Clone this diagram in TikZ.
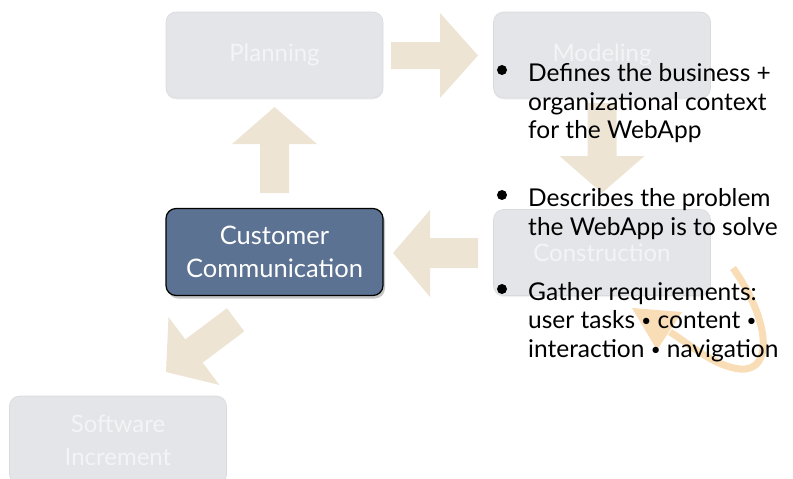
\documentclass[tikz,border=0pt]{standalone}
\usepackage{fontspec}
\setmainfont{Lato}
\usetikzlibrary{shadows}
\definecolor{boxfill}{HTML}{E4E5E9}
\definecolor{boxline}{HTML}{D9DADE}
\definecolor{boxtext}{HTML}{F4F4F6}
\definecolor{ccfill}{HTML}{5B7292}
\definecolor{arrowfill}{HTML}{EDE4D4}
\definecolor{curvecol}{HTML}{F9DDB6}
\newcommand{\smallbul}{\raisebox{2pt}{\fontsize{17}{17}\selectfont •}}
\tikzset{
  lightbox/.style={rounded corners=10pt, minimum width=217pt, minimum height=86pt,
    fill=boxfill, draw=boxline, line width=0.6pt, text=boxtext, align=center, inner sep=0pt,
    font=\fontsize{24}{33}\selectfont,
    drop shadow={opacity=0.12, shadow xshift=0pt, shadow yshift=-1.5pt}},
  ccbox/.style={rounded corners=10pt, minimum width=217pt, minimum height=87pt,
    fill=ccfill, draw=black, line width=1.2pt, text=white, align=center, inner sep=0pt,
    font=\fontsize{25.5}{33}\selectfont,
    drop shadow={opacity=0.45, shadow xshift=2pt, shadow yshift=-3pt}},
  blockarrow/.style={fill=arrowfill, draw=none},
  itemline/.style={anchor=base west, inner sep=0pt, font=\fontsize{24.5}{29}\selectfont, text=black},
  bulletdot/.style={circle, fill=black, minimum size=10pt, inner sep=0pt}
}
\begin{document}
\begin{tikzpicture}[x=1pt,y=-1pt]
\useasboundingbox (0,0) rectangle (793,479);
% boxes
\node[lightbox] (planning) at (274.5,55) {Planning};
\node[lightbox] (modeling) at (602,55) {Modeling};
\node[lightbox] (construction) at (602,252.5) {Construction};
\node[ccbox] (customer) at (274.5,252) {Customer\\Communication};
\node[lightbox, minimum height=88pt] (software) at (118,440) {Software\\Increment};
% block arrows
\fill[blockarrow] (391,42) -- (440,42) -- (440,13) -- (478,55.5) -- (440,98) -- (440,69) -- (391,69) -- cycle;
\fill[blockarrow] (260,193) -- (260,144) -- (232,144) -- (274.5,107) -- (317,144) -- (289,144) -- (289,193) -- cycle;
\fill[blockarrow] (587.5,103) -- (616.5,103) -- (616.5,156) -- (644.5,156) -- (602,193) -- (559.5,156) -- (587.5,156) -- cycle;
\fill[blockarrow] (478,238) -- (430,238) -- (430,210) -- (393,253) -- (430,297) -- (430,268) -- (478,268) -- cycle;
\fill[blockarrow] (166,372) -- (168.5,317) -- (185.3,339.4) -- (226.9,308.2) -- (244.3,331.4) -- (202.7,362.6) -- (219.5,385) -- cycle;
% curved arrow
\draw[curvecol, line width=7pt] (733,268) .. controls (770,320) and (774,372) .. (740,369) .. controls (714,366) and (692,346) .. (670,332);
\fill[curvecol] (632,308) -- (682,312) -- (657,350) -- cycle;
% bullet text
\node[bulletdot] (b1) at (502,70) {};
\node[itemline] (t11) at (528,81) {Defines the business +};
\node[itemline] (t12) at (528,110) {organizational context};
\node[itemline] (t13) at (528,138) {for the WebApp};
\node[bulletdot] (b2) at (502,195) {};
\node[itemline] (t21) at (528,206) {Describes the problem};
\node[itemline] (t22) at (528,235) {the WebApp is to solve};
\node[bulletdot] (b3) at (502,289) {};
\node[itemline] (t31) at (528,300) {Gather requirements:};
\node[itemline] (t32) at (528,328) {user tasks \smallbul{} content \smallbul};
\node[itemline] (t33) at (528,357) {interaction \smallbul{} navigation};
\end{tikzpicture}
\end{document}
